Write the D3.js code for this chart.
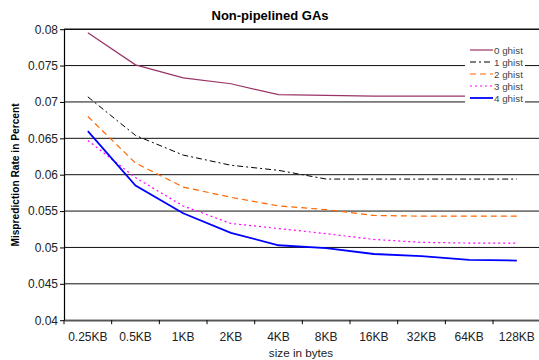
<!DOCTYPE html>
<html>
<head>
<meta charset="utf-8">
<script src="https://cdn.jsdelivr.net/npm/d3@7"></script>
<style>
body { margin: 0; background: #fff; }
svg { display: block; font-family: "Liberation Sans", Arial, sans-serif; }
</style>
</head>
<body>
<svg id="chart" width="539" height="360"></svg>
<script>
/*global d3 */
var sizes = ["0.25KB", "0.5KB", "1KB", "2KB", "4KB", "8KB", "16KB", "32KB", "64KB", "128KB"];
var seriesNames = ["0 ghist", "1 ghist", "2 ghist", "3 ghist", "4 ghist"];
var ghist0 = [0.0795, 0.0751, 0.0733, 0.0725, 0.0710, 0.0709, 0.0708, 0.0708, 0.0708, 0.0708];
var ghist1 = [0.0707, 0.0654, 0.0627, 0.0613, 0.0606, 0.0594, 0.0594, 0.0594, 0.0594, 0.0594];
var ghist2 = [0.0680, 0.0616, 0.0583, 0.0569, 0.0557, 0.0552, 0.0544, 0.0543, 0.0543, 0.0543];
var ghist3 = [0.0647, 0.0596, 0.0557, 0.0533, 0.0526, 0.0519, 0.0511, 0.0507, 0.0506, 0.0506];
var ghist4 = [0.0660, 0.0585, 0.0547, 0.0520, 0.0503, 0.0499, 0.0491, 0.0488, 0.0483, 0.0482];
var yTicks = [0.04, 0.045, 0.05, 0.055, 0.06, 0.065, 0.07, 0.075, 0.08];

var styles = [
    {color: "#993366", width: 1.2, dash: null},
    {color: "#000000", width: 1, dash: "6,3,2,3"},
    {color: "#ff6600", width: 1.2, dash: "6,4"},
    {color: "#ff00ff", width: 1.2, dash: "2,3"},
    {color: "#0000ff", width: 1.8, dash: null}
];
var allData = [ghist0, ghist1, ghist2, ghist3, ghist4];

var svg = d3.select("#chart");
var plotLeft = 64, plotRight = 540.7, plotTop = 29.2, plotBottom = 320.2;

var x = d3.scaleBand().domain(sizes).range([plotLeft, plotRight]);
var y = d3.scaleLinear().domain([0.04, 0.08]).range([plotBottom, plotTop]);

// gridlines
svg.append("g").selectAll("line").data(yTicks).enter().append("line")
    .attr("x1", plotLeft).attr("x2", plotRight)
    .attr("y1", function (d) { return y(d); })
    .attr("y2", function (d) { return y(d); })
    .attr("stroke", "#111")
    .attr("stroke-width", function (d) { return (d === 0.08) ? 1.6 : 1; });

// axes
var yAxis = d3.axisLeft(y).tickValues(yTicks).tickSize(4).tickSizeOuter(0)
    .tickFormat(function (d) { return String(+d.toFixed(3)); });
var gy = svg.append("g").attr("transform", "translate(" + plotLeft + ",0)").call(yAxis);
gy.attr("font-family", null);
gy.select(".domain").attr("stroke", "#000").attr("stroke-width", 1.2);
gy.selectAll(".tick line").attr("stroke", "#000");
gy.selectAll("text").attr("font-size", 12).attr("fill", "#222").attr("x", -6);

var xAxis = d3.axisBottom(x).tickSize(0).tickSizeOuter(0);
var gx = svg.append("g").attr("transform", "translate(0," + plotBottom + ")").call(xAxis);
gx.attr("font-family", null);
gx.select(".domain").attr("stroke", "#555").attr("stroke-width", 1.6);
gx.selectAll("text").attr("font-size", 12).attr("fill", "#222").attr("dy", 0).attr("y", 20.5);
gx.selectAll(".xtick").data(sizes).enter().append("line")
    .attr("class", "xtick")
    .attr("x1", function (d) { return x(d); })
    .attr("x2", function (d) { return x(d); })
    .attr("y1", 0).attr("y2", 4)
    .attr("stroke", "#000");

// lines
var line = d3.line()
    .x(function (d, i) { return x(sizes[i]) + x.bandwidth() / 2; })
    .y(function (d) { return y(d); });

svg.append("g").selectAll("path").data(allData).enter().append("path")
    .attr("d", line)
    .attr("fill", "none")
    .attr("stroke", function (d, i) { return styles[i].color; })
    .attr("stroke-width", function (d, i) { return styles[i].width; })
    .attr("stroke-dasharray", function (d, i) { return styles[i].dash; });

// legend
var legend = svg.append("g");
legend.append("rect").attr("x", 465).attr("y", 42).attr("width", 60).attr("height", 62).attr("fill", "#fff");
var rows = legend.selectAll("g.row").data(seriesNames).enter().append("g")
    .attr("class", "row")
    .attr("transform", function (d, i) { return "translate(470," + (50 + i * 12) + ")"; });
rows.append("line")
    .attr("x1", 0).attr("x2", 23).attr("y1", 0).attr("y2", 0)
    .attr("stroke", function (d, i) { return styles[i].color; })
    .attr("stroke-width", function (d, i) { return i === 0 ? 2 : styles[i].width; })
    .attr("stroke-opacity", function (d, i) { return i === 0 ? 0.6 : 1; })
    .attr("stroke-dasharray", function (d, i) { return styles[i].dash; });
rows.append("text")
    .attr("x", 24).attr("y", 3.5)
    .attr("font-size", 9.8).attr("fill", "#444")
    .text(function (d) { return d; });

// titles
svg.append("text").attr("x", 270).attr("y", 20).attr("text-anchor", "middle")
    .attr("font-size", 13).attr("font-weight", "bold").text("Non-pipelined GAs");
svg.append("text").attr("x", 301).attr("y", 357).attr("text-anchor", "middle")
    .attr("font-size", 11.7).attr("fill", "#222").text("size in bytes");
svg.append("text").attr("transform", "translate(19,175) rotate(-90)").attr("text-anchor", "middle")
    .attr("font-size", 10.2).attr("font-weight", "bold").text("Misprediction Rate in Percent");
</script>
</body>
</html>
